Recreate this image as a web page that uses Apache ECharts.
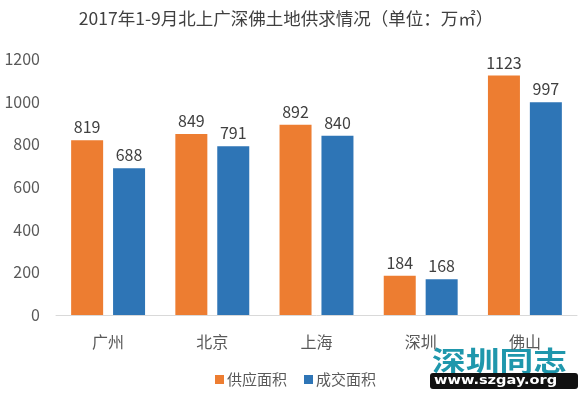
<!DOCTYPE html>
<html><head><meta charset="utf-8">
<script src="https://cdn.jsdelivr.net/npm/echarts@6/dist/echarts.min.js"></script>
<style>html,body{margin:0;padding:0;background:#fff}#c{width:582px;height:394px}</style>
</head><body><div id="c"></div>
<script>
const categories = ['广州','北京','上海','深圳','佛山'];
const supply = [819, 849, 892, 184, 1123];
const deal = [688, 791, 840, 168, 997];
const yTicks = [0, 200, 400, 600, 800, 1000, 1200];
const font = '"Microsoft YaHei","Noto Sans CJK SC",sans-serif';
const chart = echarts.init(document.getElementById('c'), null, {renderer:'canvas'});
chart.setOption({
  animation:false,
  textStyle:{fontFamily:font},
  title:{text:'2017年1-9月北上广深佛土地供求情况（单位：万㎡）', left:281, textAlign:'center', top:5,
    textStyle:{fontSize:17.5, fontWeight:'normal', color:'#404040', fontFamily:font}},
  legend:{data:['供应面积','成交面积'], top:367, left:210, itemWidth:9, itemHeight:9, itemGap:17,
    textStyle:{fontSize:15, color:'#595959', fontFamily:font, padding:[0,0,0,-2]}, icon:'rect'},
  grid:{left:56, right:5, top:59, bottom:79},
  xAxis:{type:'category', data:categories, axisTick:{show:false},
    axisLine:{lineStyle:{color:'#d9d9d9'}},
    axisLabel:{fontSize:16, color:'#595959', margin:19, fontFamily:font}},
  yAxis:{type:'value', min:yTicks[0], max:yTicks[yTicks.length-1], interval:200,
    splitLine:{show:false}, axisLine:{show:false}, axisTick:{show:false},
    axisLabel:{fontSize:16, color:'#595959', margin:16, fontFamily:font, formatter:v=>String(v)}},
  series:[
    {name:'供应面积', type:'bar', data:supply, barWidth:32, barGap:'31%', itemStyle:{color:'#ED7D31'},
      label:{show:true, position:'top', fontSize:16, color:'#404040', distance:5, fontFamily:font}},
    {name:'成交面积', type:'bar', data:deal, barWidth:32, itemStyle:{color:'#2E75B6'},
      label:{show:true, position:'top', fontSize:16, color:'#404040', distance:5, fontFamily:font}}
  ],
  graphic:[
    {type:'text', x:432, y:347, scaleX:1.25, style:{text:'深圳同志', fontSize:27, fontWeight:'bold', fill:'#1f97ac', fontFamily:font}},
    {type:'rect', x:430, y:373, shape:{width:148, height:16, r:3}, style:{fill:'#111'}},
    {type:'text', x:434, y:374, scaleX:1.12, style:{text:'www.szgay.org', fontSize:13, fontWeight:'bold', fill:'#fff', fontFamily:'"DejaVu Sans",sans-serif'}}
  ]
});
</script></body></html>
